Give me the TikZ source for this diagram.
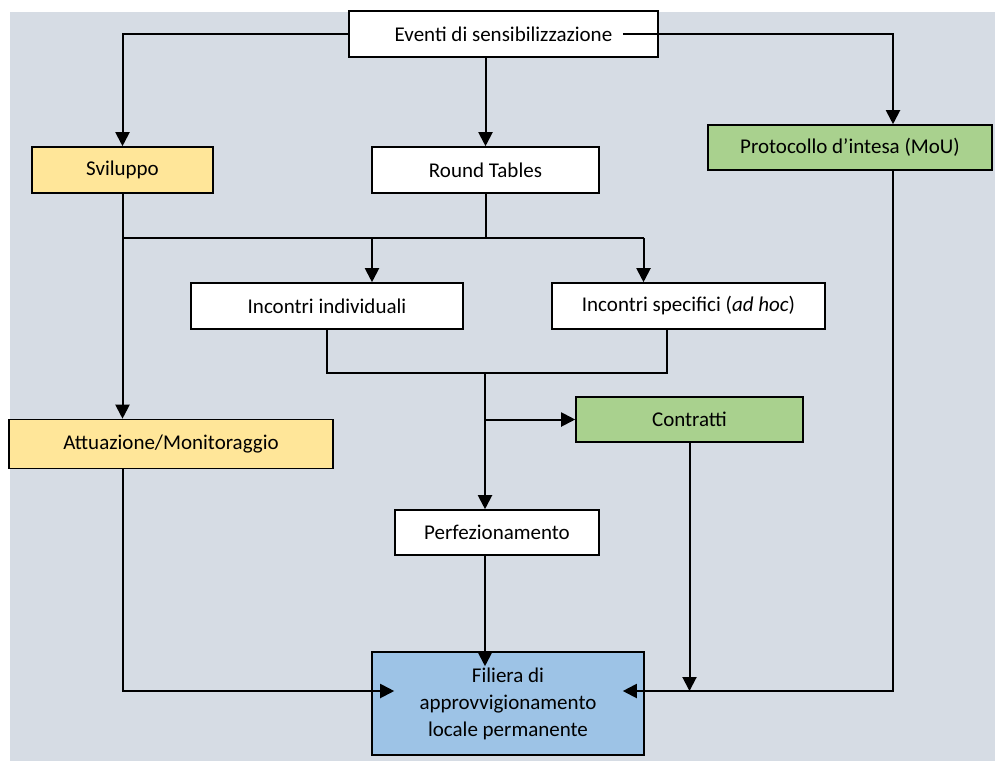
\documentclass[tikz,border=0pt]{standalone}
\usepackage{fontspec}
\setmainfont{Carlito}
\usetikzlibrary{arrows.meta}
\definecolor{bg}{RGB}{214,220,228}
\definecolor{yel}{RGB}{255,230,153}
\definecolor{grn}{RGB}{169,209,142}
\definecolor{blu}{RGB}{157,195,230}
\begin{document}
\begin{tikzpicture}[x=1pt,y=-1pt,line width=2pt,
box/.style={draw,line width=1.6pt,fill=white,minimum height=46pt,inner sep=0pt,
font=\fontsize{21}{27}\selectfont},
arr/.style={-{Triangle[length=14pt,width=14pt]}}]
\useasboundingbox (0,0) rectangle (995,761);
\fill[bg] (10,12) rectangle (995,761);
\node[box,minimum width=309pt] (ev) at (503.5,34) {Eventi di sensibilizzazione};
\node[box,fill=yel,minimum width=181pt] (sv) at (122.5,170) {Sviluppo};
\node[box,minimum width=227pt] (rt) at (485.5,170) {Round Tables};
\node[box,fill=grn,minimum width=284pt,minimum height=45pt] (pr) at (850,147.5) {Protocollo d’intesa (MoU)};
\node[box,minimum width=272pt] (ind) at (327,306) {Incontri individuali};
\node[box,minimum width=273pt] (spec) at (688.5,306) {Incontri specifici (\textit{ad hoc})};
\node[box,fill=yel,minimum width=324pt,minimum height=49pt] (att) at (171,444) {Attuazione/Monitoraggio};
\node[box,fill=grn,minimum width=227pt,minimum height=45pt] (con) at (689.5,419.5) {Contratti};
\node[box,minimum width=204pt,minimum height=45pt] (perf) at (497,532.5) {Perfezionamento};
\node[box,fill=blu,minimum width=272pt,minimum height=103pt,align=center] (fil) at (508,703.5)
{Filiera di\\approvvigionamento\\locale permanente};
\coordinate (es) at ([xshift=-36pt]ev.east);
\coordinate (pa) at ([xshift=43pt]pr.north);
\coordinate (pb) at ([xshift=43pt]pr.south);
\coordinate (bus) at ([yshift=-44pt]rt.south);
\coordinate (ia) at ([xshift=45pt]ind.north);
\coordinate (sa) at ([xshift=-45pt]spec.north);
\coordinate (sb) at ([xshift=-21.5pt]spec.south);
\coordinate (join) at (485,373);
\coordinate (fl) at ([yshift=12.5pt]fil.west);
\coordinate (fr) at ([yshift=12.5pt]fil.east);
\draw[arr] (ev.west) -| (sv.north);
\draw[arr] (es) -| (pa);
\draw[arr] (rt.north |- ev.south) -- (rt.north);
\draw[arr] (sv.south) -- (sv.south |- att.north);
\draw (rt.south) -- (bus) (sv.south |- bus) -- (sa |- bus);
\draw[arr] (ia |- bus) -- (ia);
\draw[arr] (sa |- bus) -- (sa);
\draw (ind.south) |- (sb |- join) -- (sb);
\draw[arr] (join) -- (join |- perf.north);
\draw[arr] (join |- con.west) -- (con.west);
\draw[arr,shorten >=-15pt] (join |- perf.south) -- (join |- fil.north);
\draw[arr,shorten >=-23pt] (sv.south |- att.south) |- (fl);
\draw[arr,shorten >=-22pt] (pb) |- (fr);
\draw[arr] (con.south) -- (con.south |- fr);
\end{tikzpicture}
\end{document}
